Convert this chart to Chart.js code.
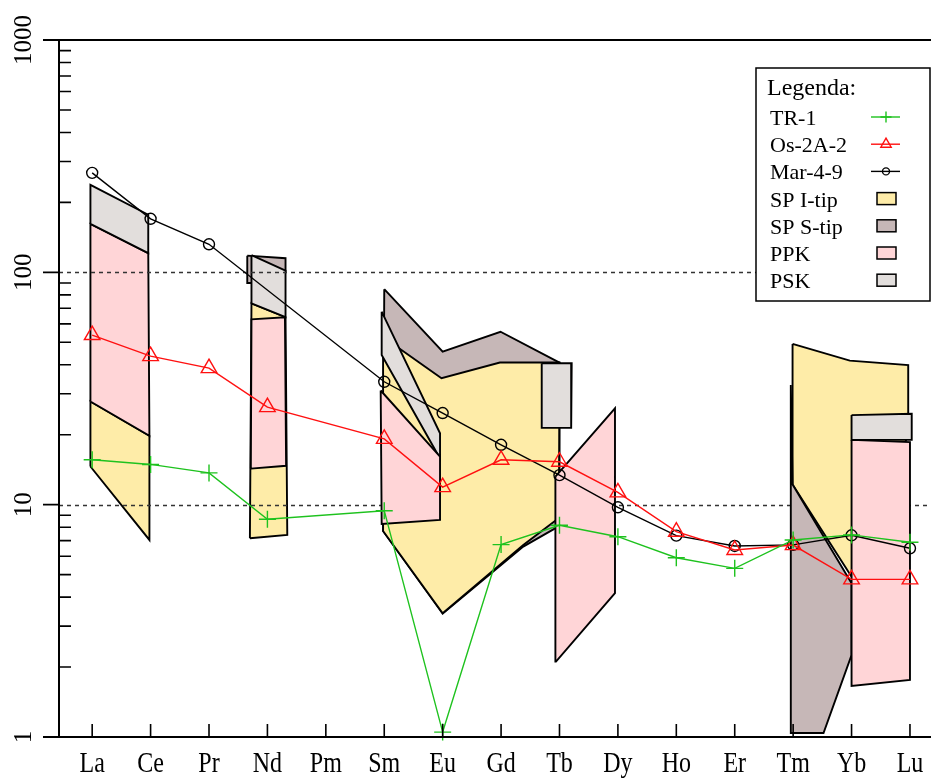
<!DOCTYPE html>
<html>
<head>
<meta charset="utf-8">
<title>REE spider diagram</title>
<script src="https://cdn.jsdelivr.net/npm/chart.js@4.4.0/dist/chart.umd.min.js"></script>
<style>
  html, body { margin: 0; padding: 0; background: #fff; overflow: hidden; }
  canvas { display: block; }
</style>
</head>
<body>
<canvas id="reeChart" width="931" height="778"></canvas>
<script>
// categories and tick labels
const elements = ['La', 'Ce', 'Pr', 'Nd', 'Pm', 'Sm', 'Eu', 'Gd', 'Tb', 'Dy', 'Ho', 'Er', 'Tm', 'Yb', 'Lu'];
const yTicks = [1, 10, 100, 1000];

// samples (null = not plotted)
const tr1 = [15.6, 14.9, 13.7, 8.65, null, 9.42, 1.05, 6.73, 8.15, 7.28, 5.91, 5.32, 7.05, 7.41, 6.89];
const os2a2 = [53.7, 43.6, 38.7, 26.3, null, 19.2, 11.9, 15.6, 15.3, 11.3, 7.65, 6.38, 6.7, 4.77, 4.77];
const mar49 = [268, 170, 132, null, null, 33.8, 24.8, 18.1, 13.4, 9.74, 7.36, 6.64, 6.71, 7.38, 6.49];

// field outlines, vertices as [element index, value]
const stipNd = [[2.655, 118], [3.31, 115], [3.31, 100], [2.727, 90], [2.655, 90]];
const itipLaCe = [[-0.03, 14.6], [0.98, 7.05], [0.98, 19.8], [-0.03, 27.8]];
const ppkLaCe = [[-0.03, 27.8], [0.98, 19.8], [0.96, 121], [-0.03, 161.5]];
const pskLaCe = [[-0.03, 161.5], [0.96, 121], [0.96, 177], [-0.03, 238]];
const itipNd = [[2.70, 7.17], [3.34, 7.41], [3.31, 64.1], [2.727, 73.6]];
const ppkNd = [[2.716, 14.3], [3.32, 14.7], [3.30, 64.1], [2.727, 62.8]];
const pskNd = [[2.727, 118.5], [3.31, 101.7], [3.31, 64.1], [2.727, 73.6]];
const stipSmTb = [[5.0, 84.6], [6.0, 45.6], [6.99, 55.5], [8.0, 40.9], [8.0, 8.1], [7.38, 6.6], [6.0, 3.4], [4.98, 7.7]];
const itipSmTb = [[4.98, 52.7], [5.98, 35.0], [6.98, 40.9], [8.0, 40.9], [7.99, 8.77], [7.38, 6.7], [6.0, 3.41], [4.98, 7.7]];
const pskSm = [[4.956, 67.7], [5.955, 20.3], [5.955, 15.8], [4.956, 44.1]];
const ppkSmEu = [[4.939, 31], [5.955, 16.1], [5.955, 8.6], [4.956, 8.26]];
const pskTb = [[7.696, 40.6], [8.209, 40.6], [8.2, 21.4], [7.696, 21.4]];
const ppkTbDy = [[7.93, 13.2], [8.95, 26.0], [8.95, 4.16], [7.94, 2.11]];
const itipTmLu = [[11.99, 49.2], [12.97, 41.7], [13.97, 39.9], [13.97, 20], [13.0, 4.9], [11.99, 12.2]];
const stipTm = [[11.96, 32.7], [11.99, 12.2], [13.0, 4.59], [13.0, 2.25], [12.52, 1.04], [11.96, 1.04]];
const pskYbLu = [[13.0, 24.3], [14.03, 24.6], [14.03, 19.0], [13.0, 19.0]];
const ppkYbLu = [[13.0, 19.0], [14.0, 18.6], [14.0, 1.76], [13.0, 1.66]];

const fieldColors = {
  'SP I-tip': '#feeca8',
  'SP S-tip': '#c6b7b7',
  'PPK': '#ffd5d7',
  'PSK': '#e2dedc'
};

// back to front
const polygons = [
  ['SP S-tip', stipNd],
  ['SP I-tip', itipLaCe], ['PPK', ppkLaCe], ['PSK', pskLaCe],
  ['SP I-tip', itipNd], ['PPK', ppkNd], ['PSK', pskNd],
  ['SP S-tip', stipSmTb], ['SP I-tip', itipSmTb], ['PSK', pskSm], ['PPK', ppkSmEu], ['PSK', pskTb], ['PPK', ppkTbDy],
  ['SP I-tip', itipTmLu], ['SP S-tip', stipTm], ['PSK', pskYbLu], ['PPK', ppkYbLu]
];

const seriesPoints = values => values.map((v, i) => ({ x: i, y: v })).filter(p => p.y !== null);

const series = [
  { label: 'TR-1', values: tr1, color: '#1ec21e', style: 'cross', radius: 8.5, legendRadius: 5.5 },
  { label: 'Os-2A-2', values: os2a2, color: '#ff1010', style: 'triangle', radius: 9, legendRadius: 6 },
  { label: 'Mar-4-9', values: mar49, color: '#000000', style: 'circle', radius: 5.5, legendRadius: 3.5 }
];

const lineSets = series.map((s, i) => ({
  label: s.label,
  data: seriesPoints(s.values),
  borderColor: s.color,
  borderWidth: 1.4,
  pointStyle: s.style,
  pointRadius: s.radius,
  pointBorderColor: s.color,
  pointBorderWidth: 1.4,
  pointBackgroundColor: 'rgba(0,0,0,0)',
  fill: false,
  clip: false,
  order: i
}));

const polySets = polygons.map(([name, verts], i) => ({
  label: name,
  data: verts.concat([verts[0]]).map(([x, y]) => ({ x, y })),
  borderColor: '#000',
  borderWidth: 1.9,
  borderJoinStyle: 'miter',
  backgroundColor: fieldColors[name],
  fill: 'shape',
  pointRadius: 0,
  order: 100 - i,
  gridAfter: verts === pskNd
}));

const SERIF = '"Liberation Serif", "Times New Roman", serif';

const frame = {
  id: 'frame',
  afterDatasetDraw(chart, args) {
    if (!chart.data.datasets[args.index].gridAfter) return;
    const { ctx, chartArea: a, scales: { y } } = chart;
    ctx.save();
    ctx.strokeStyle = '#333';
    ctx.lineWidth = 1.5;
    ctx.setLineDash([4, 4]);
    [10, 100].forEach(v => {
      const py = Math.round(y.getPixelForValue(v)) + 0.5;
      ctx.beginPath();
      ctx.moveTo(a.left, py);
      ctx.lineTo(a.right, py);
      ctx.stroke();
    });
    ctx.restore();
  },
  afterDraw(chart) {
    const { ctx, chartArea: a, scales: { x, y } } = chart;
    ctx.save();
    ctx.strokeStyle = '#000';
    ctx.lineWidth = 2;
    ctx.beginPath();
    ctx.moveTo(a.left - 16, a.top); ctx.lineTo(a.right, a.top);
    ctx.moveTo(a.left, a.top); ctx.lineTo(a.left, a.bottom);
    ctx.moveTo(a.left - 16, a.bottom); ctx.lineTo(a.right, a.bottom);
    ctx.stroke();

    ctx.lineWidth = 1.6;
    ctx.beginPath();
    for (let d = 1; d < 1000; d *= 10) {
      for (let k = 2; k <= 9; k++) {
        const py = y.getPixelForValue(k * d);
        ctx.moveTo(a.left, py); ctx.lineTo(a.left + 12, py);
      }
    }
    yTicks.forEach(v => {
      const py = y.getPixelForValue(v);
      ctx.moveTo(a.left - 16, py); ctx.lineTo(a.left, py);
    });
    elements.forEach((e, i) => {
      const px = x.getPixelForValue(i);
      ctx.moveTo(px, a.bottom); ctx.lineTo(px, a.bottom - 13);
    });
    ctx.stroke();

    // axis labels
    ctx.fillStyle = '#000';
    ctx.font = '25px ' + SERIF;
    ctx.textAlign = 'center';
    ctx.textBaseline = 'middle';
    yTicks.forEach(v => {
      ctx.save();
      ctx.translate(24, y.getPixelForValue(v));
      ctx.rotate(-Math.PI / 2);
      ctx.fillText(String(v), 0, 0);
      ctx.restore();
    });
    ctx.font = '24px ' + SERIF;
    ctx.textBaseline = 'alphabetic';
    elements.forEach((e, i) => {
      ctx.save();
      ctx.translate(x.getPixelForValue(i), a.bottom + 35);
      ctx.scale(1, 1.25);
      ctx.fillText(e, 0, 0);
      ctx.restore();
    });

    // legend
    const lx = 756, ly = 68, lw = 174, lh = 233;
    ctx.fillStyle = '#fff';
    ctx.fillRect(lx, ly, lw, lh);
    ctx.lineWidth = 1.5;
    ctx.strokeRect(lx, ly, lw, lh);
    ctx.fillStyle = '#000';
    ctx.textAlign = 'left';
    ctx.font = '24px ' + SERIF;
    ctx.fillText('Legenda:', lx + 11, ly + 27);
    ctx.font = '22px ' + SERIF;
    const rows = series.map(s => ({ type: 'line', s }))
      .concat(Object.keys(fieldColors).map(name => ({ type: 'box', name })));
    rows.forEach((r, i) => {
      const base = ly + 57 + i * 27.2;
      const cy = base - 8;
      ctx.fillStyle = '#000';
      ctx.fillText(r.type === 'line' ? r.s.label : r.name, lx + 14, base);
      if (r.type === 'line') {
        ctx.strokeStyle = r.s.color;
        ctx.lineWidth = 1.4;
        ctx.beginPath();
        ctx.moveTo(lx + 115, cy); ctx.lineTo(lx + 144, cy);
        ctx.stroke();
        ctx.fillStyle = 'rgba(0,0,0,0)';
        Chart.helpers.drawPoint(ctx, { pointStyle: r.s.style, radius: r.s.legendRadius, borderWidth: 1.4, rotation: 0 }, lx + 130, cy);
      } else {
        ctx.fillStyle = fieldColors[r.name];
        ctx.strokeStyle = '#000';
        ctx.lineWidth = 1.5;
        ctx.fillRect(lx + 121, cy - 6, 19, 12);
        ctx.strokeRect(lx + 121, cy - 6, 19, 12);
      }
    });
    ctx.restore();
  }
};

const ctx = document.getElementById('reeChart').getContext('2d');

const reeChart = new Chart(ctx, {
  type: 'line',
  data: { datasets: lineSets.concat(polySets) },
  options: {
    responsive: false,
    animation: false,
    layout: { autoPadding: false, padding: { left: 59, right: 0, top: 40, bottom: 41 } },
    elements: { line: { tension: 0 } },
    scales: {
      x: { type: 'linear', min: -0.568, max: 14.36, display: false },
      y: { type: 'logarithmic', min: 1, max: 1000, display: false }
    },
    plugins: {
      legend: { display: false },
      tooltip: { enabled: false }
    }
  },
  plugins: [frame]
});
</script>
</body>
</html>
